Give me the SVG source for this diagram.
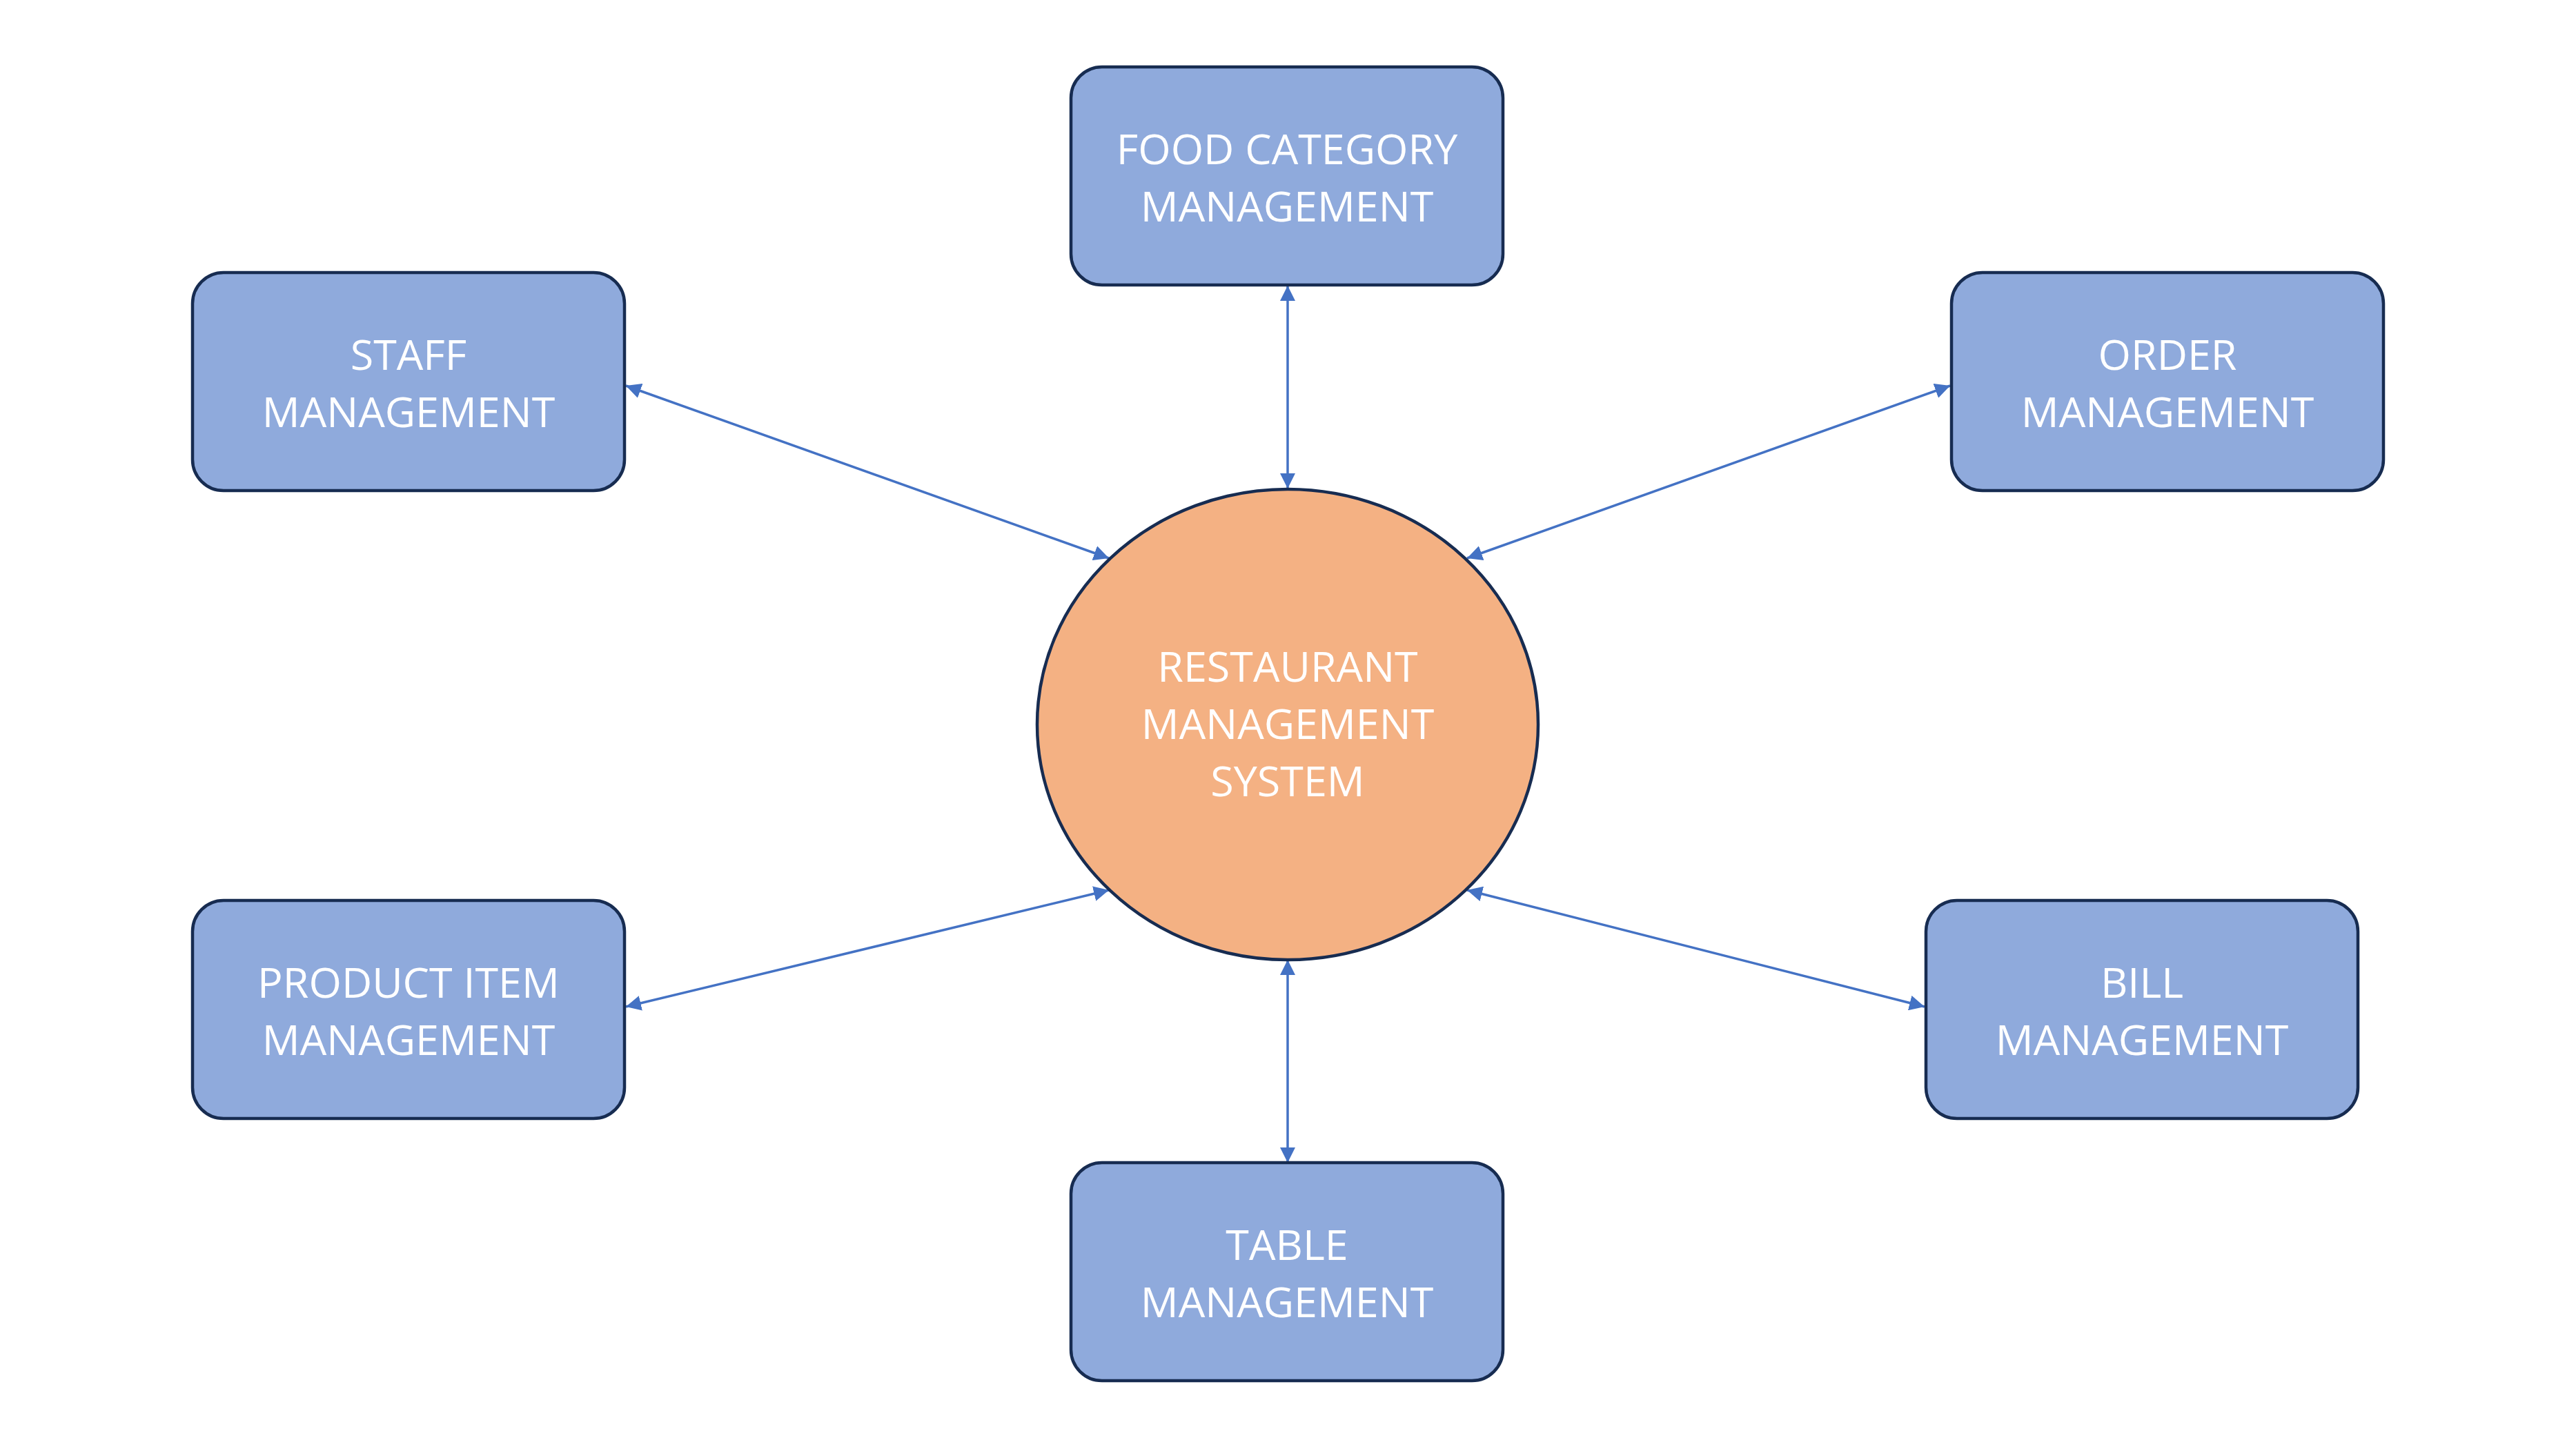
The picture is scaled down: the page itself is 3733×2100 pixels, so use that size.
<svg xmlns="http://www.w3.org/2000/svg" width="3733" height="2100" viewBox="0 0 3733 2100">
<style>
.box{fill:#8FAADC;stroke:#172C51;stroke-width:4.5}
.hub{fill:#F4B183;stroke:#172C51;stroke-width:4.5}
.lbl{font-family:"Open Sans","Noto Sans",sans-serif;font-size:61px;fill:#FFFFFF;text-anchor:middle}
.con{stroke:#4472C4;stroke-width:3.5;fill:none;marker-start:url(#ah);marker-end:url(#ah)}
</style>
<defs>
<marker id="ah" markerUnits="userSpaceOnUse" markerWidth="22" markerHeight="22" refX="22" refY="11" orient="auto-start-reverse" viewBox="0 0 22 22">
<path d="M0,0 L22,11 L0,22 z" fill="#4472C4"/>
</marker>
</defs>
<rect width="3733" height="2100" fill="#FFFFFF"/>
<g id="connectors">
<line class="con" x1="1866" y1="414" x2="1866" y2="708"/>
<line class="con" x1="1866" y1="1391" x2="1866" y2="1685"/>
<line class="con" x1="907" y1="559" x2="1607" y2="809"/>
<line class="con" x1="2826" y1="559" x2="2126" y2="809"/>
<line class="con" x1="907" y1="1459" x2="1607" y2="1290"/>
<line class="con" x1="2789" y1="1459" x2="2126" y2="1290"/>
</g>
<g id="hub">
<ellipse class="hub" cx="1866" cy="1050" rx="363" ry="341"/>
<text class="lbl" x="1866" y="988">RESTAURANT</text>
<text class="lbl" x="1866" y="1071">MANAGEMENT</text>
<text class="lbl" x="1866" y="1154">SYSTEM</text>
</g>
<g id="food-category">
<rect class="box" x="1552" y="97" width="626" height="316" rx="45"/>
<text class="lbl" x="1865" y="238">FOOD CATEGORY</text>
<text class="lbl" x="1865" y="321">MANAGEMENT</text>
</g>
<g id="staff">
<rect class="box" x="279" y="395" width="626" height="316" rx="45"/>
<text class="lbl" x="592" y="536">STAFF</text>
<text class="lbl" x="592" y="619">MANAGEMENT</text>
</g>
<g id="order">
<rect class="box" x="2828" y="395" width="626" height="316" rx="45"/>
<text class="lbl" x="3141" y="536">ORDER</text>
<text class="lbl" x="3141" y="619">MANAGEMENT</text>
</g>
<g id="product-item">
<rect class="box" x="279" y="1305" width="626" height="316" rx="45"/>
<text class="lbl" x="592" y="1446">PRODUCT ITEM</text>
<text class="lbl" x="592" y="1529">MANAGEMENT</text>
</g>
<g id="bill">
<rect class="box" x="2791" y="1305" width="626" height="316" rx="45"/>
<text class="lbl" x="3104" y="1446">BILL</text>
<text class="lbl" x="3104" y="1529">MANAGEMENT</text>
</g>
<g id="table">
<rect class="box" x="1552" y="1685" width="626" height="316" rx="45"/>
<text class="lbl" x="1865" y="1826">TABLE</text>
<text class="lbl" x="1865" y="1909">MANAGEMENT</text>
</g>
</svg>
